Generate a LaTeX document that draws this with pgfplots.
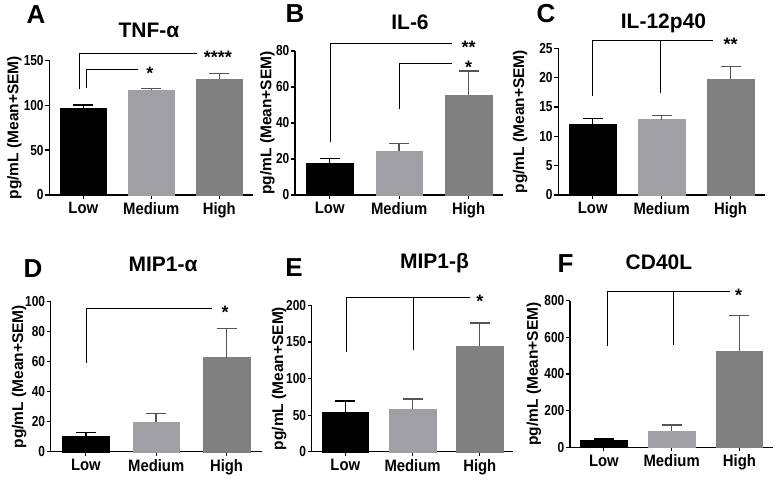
\documentclass[border=0pt]{standalone}
\usepackage{fontspec}
\setmainfont{Liberation Sans}
\newfontfamily\narrowB[FakeStretch=0.82]{Liberation Sans}
\newfontfamily\narrowA[FakeStretch=0.9]{Liberation Sans}
\usepackage{pgfplots}
\pgfplotsset{compat=1.18}

\definecolor{medgray}{RGB}{160,160,164}
\definecolor{higray}{RGB}{128,128,128}
\definecolor{errgray}{RGB}{85,85,85}

\newcommand\ytickfont{\fontsize{14.5}{14.5}\selectfont\narrowB\bfseries}
\newcommand\xtickfont{\fontsize{16.5}{16.5}\selectfont\narrowA\bfseries}
\newcommand\ylabfont{\fontsize{15.5}{15.5}\selectfont\bfseries}
\newcommand\titlefont{\fontsize{21}{21}\selectfont\bfseries}
\newcommand\letterfont{\fontsize{26}{26}\selectfont\bfseries}
\newcommand\starfont{\fontsize{18}{18}\selectfont\bfseries}

\pgfplotsset{
  panel/.style={
    scale only axis, clip=false, anchor=south west,
    axis x line*=bottom, axis y line*=left,
    axis line style={line width=1.4pt},
    xmin=-0.5, xmax=2.5, ymin=0,
    xtick={0,1,2}, xticklabels={Low,Medium,High},
    tick align=outside, major tick length=4pt,
    every tick/.style={black, line width=1.2pt},
    /pgf/number format/assume math mode=true,
    yticklabel style={font=\ytickfont, inner sep=1.5pt},
    xticklabel style={font=\xtickfont},
    ylabel={pg/mL (Mean+SEM)},
    ylabel style={font=\ylabfont},
  },
  ylab at/.style={ylabel style={at={(axis description cs:#1,0.5)}, anchor=center}},
  barbase/.style={ybar, bar width=46.5pt, bar shift=0pt,
    error bars/y dir=plus, error bars/y explicit},
  low/.style={barbase, fill=black, draw=black,
    error bars/error bar style={line width=1.4pt, black},
    error bars/error mark options={rotate=90, mark size=10pt, line width=1.4pt, black}},
  med/.style={barbase, fill=medgray, draw=medgray,
    error bars/error bar style={line width=1.4pt, errgray},
    error bars/error mark options={rotate=90, mark size=10pt, line width=1.4pt, errgray}},
  high/.style={barbase, fill=higray, draw=higray,
    error bars/error bar style={line width=1.4pt, errgray},
    error bars/error mark options={rotate=90, mark size=10pt, line width=1.4pt, errgray}},
  bracket/.style={black, line width=0.95pt, sharp plot, no markers, forget plot, line join=miter},
}
\tikzset{stars/.style={font=\starfont, anchor=base, yshift=-10pt, inner sep=0pt}}

\begin{document}
\begin{tikzpicture}
\path[use as bounding box] (0pt,0pt) rectangle (779pt,480pt);

% panel letters and titles
\node[anchor=base, font=\letterfont] at (36pt,456pt) {A};
\node[anchor=base, font=\titlefont] at (149pt,442.5pt) {TNF-α};
\node[anchor=base, font=\letterfont] at (295pt,457pt) {B};
\node[anchor=base, font=\titlefont] at (410pt,450pt) {IL-6};
\node[anchor=base, font=\letterfont] at (546pt,457pt) {C};
\node[anchor=base, font=\titlefont] at (663.5pt,451.5pt) {IL-12p40};
\node[anchor=base, font=\letterfont] at (33pt,202.5pt) {D};
\node[anchor=base, font=\titlefont] at (163pt,209pt) {MIP1-α};
\node[anchor=base, font=\letterfont] at (294pt,203.5pt) {E};
\node[anchor=base, font=\titlefont] at (434.5pt,211.5pt) {MIP1-β};
\node[anchor=base, font=\letterfont] at (565.5pt,207.5pt) {F};
\node[anchor=base, font=\titlefont] at (659pt,211pt) {CD40L};

% A: TNF-alpha
\begin{axis}[panel, at={(49.3pt,285pt)}, width=204pt, height=134.7pt,
  ymax=150, ytick={0,50,100,150}, ylab at=-0.171]
\addplot[low]  coordinates {(0,97.2) +- (0,3.0)};
\addplot[med]  coordinates {(1,116.9) +- (0,1.9)};
\addplot[high] coordinates {(2,129.2) +- (0,6.3)};
\addplot[bracket] coordinates {(-0.06,117.7) (-0.06,157.8) (1.67,157.8)};
\addplot[bracket] coordinates {(0.04,118.8) (0.04,140.3) (0.81,140.3)};
\node[stars] at (axis cs:1.98,157.8) {****};
\node[stars] at (axis cs:0.98,140.3) {*};
\end{axis}

% B: IL-6
\begin{axis}[panel, at={(295pt,285pt)}, width=208.3pt, height=144pt,
  ymax=80, ytick={0,20,40,60,80}, ylab at=-0.132]
\addplot[low]  coordinates {(0,17.6) +- (0,2.8)};
\addplot[med]  coordinates {(1,24.6) +- (0,4.1)};
\addplot[high] coordinates {(2,55.6) +- (0,13.4)};
\addplot[bracket] coordinates {(0.01,29.6) (0.01,84.3) (1.76,84.3)};
\addplot[bracket] coordinates {(1.0,48) (1.0,73.1) (1.76,73.1)};
\node[stars] at (axis cs:2,84.3) {**};
\node[stars] at (axis cs:2,73.1) {*};
\end{axis}

% C: IL-12p40
\begin{axis}[panel, at={(558.3pt,285pt)}, width=206.7pt, height=146.7pt,
  ymax=25, ytick={0,5,10,15,20,25}, ylab at=-0.185]
\addplot[low]  coordinates {(0,12.0) +- (0,1.07)};
\addplot[med]  coordinates {(1,12.84) +- (0,0.66)};
\addplot[high] coordinates {(2,19.7) +- (0,2.2)};
\addplot[bracket] coordinates {(0,16.9) (0,26.3) (1.74,26.3)};
\addplot[bracket] coordinates {(0.99,17.4) (0.99,26.3)};
\node[stars] at (axis cs:2,26.3) {**};
\end{axis}

% D: MIP1-alpha
\begin{axis}[panel, at={(50.7pt,28.3pt)}, width=211pt, height=150pt,
  ymax=100, ytick={0,20,40,60,80,100}, ylab at=-0.150]
\addplot[low]  coordinates {(0,10.4) +- (0,2.3)};
\addplot[med]  coordinates {(1,20) +- (0,5.6)};
\addplot[high] coordinates {(2,62.7) +- (0,19.3)};
\addplot[bracket] coordinates {(0.01,58.9) (0.01,95.6) (1.80,95.6)};
\node[stars] at (axis cs:1.98,95.6) {*};
\end{axis}

% E: MIP1-beta
\begin{axis}[panel, at={(311.7pt,28.3pt)}, width=201.7pt, height=146.3pt,
  ymax=200, ytick={0,50,100,150,200}, ylab at=-0.162]
\addplot[low]  coordinates {(0,54) +- (0,15.5)};
\addplot[med]  coordinates {(1,57.7) +- (0,14.6)};
\addplot[high] coordinates {(2,144) +- (0,32)};
\addplot[bracket] coordinates {(0.02,136) (0.02,211) (1.86,211)};
\addplot[bracket] coordinates {(1.01,139.5) (1.01,211)};
\node[stars] at (axis cs:2,211) {*};
\end{axis}

% F: CD40L
\begin{axis}[panel, at={(570pt,32.7pt)}, width=203.3pt, height=146.6pt,
  ymax=800, ytick={0,200,400,600,800}, ylab at=-0.177]
\addplot[low]  coordinates {(0,38) +- (0,7)};
\addplot[med]  coordinates {(1,89) +- (0,33)};
\addplot[high] coordinates {(2,524) +- (0,194)};
\addplot[bracket] coordinates {(0.05,551) (0.05,849) (1.86,849)};
\addplot[bracket] coordinates {(1.02,558) (1.02,849)};
\node[stars] at (axis cs:1.99,849) {*};
\end{axis}
\end{tikzpicture}
\end{document}
